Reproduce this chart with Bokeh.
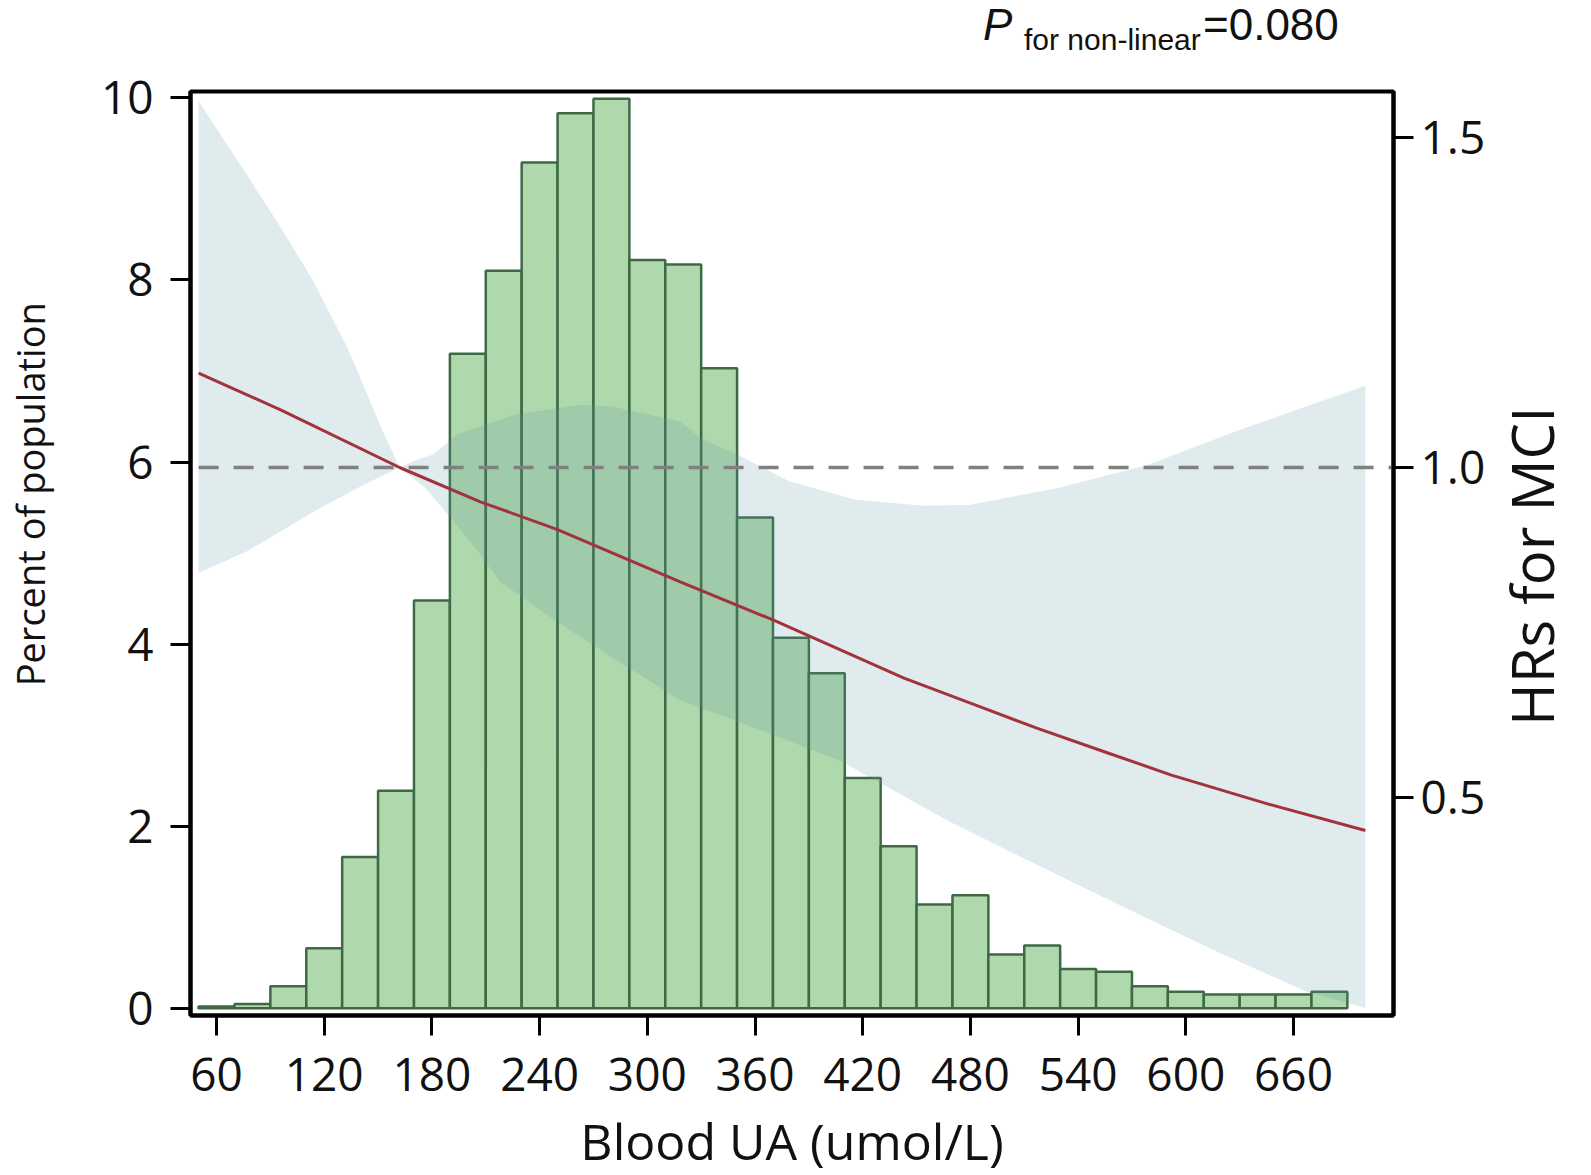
import math
from bokeh.plotting import figure
from bokeh.layouts import column, row
from bokeh.models import Range1d, LinearAxis, FixedTicker, PrintfTickFormatter, Div
from bokeh.embed import file_html
from bokeh.resources import INLINE

# ---------------- data ----------------
bin_centers = [60, 80, 100, 120, 140, 160, 180, 200, 220, 240, 260, 280, 300, 320, 340, 360,
               380, 400, 420, 440, 460, 480, 500, 520, 540, 560, 580, 600, 620, 640, 660, 680]
bin_width = 20
percent = [0.02, 0.045, 0.24, 0.66, 1.66, 2.39, 4.48, 7.19, 8.10, 9.29, 9.83, 9.99, 8.22, 8.17, 7.03, 5.39,
           4.07, 3.68, 2.53, 1.78, 1.14, 1.24, 0.59, 0.69, 0.43, 0.40, 0.24, 0.18, 0.15, 0.15, 0.15, 0.18]

ua_curve = [50, 96, 162, 207, 250, 318, 370, 443, 480, 517, 555, 592, 646, 700]
hr_curve = [1.143, 1.087, 1.0, 0.948, 0.906, 0.827, 0.769, 0.681, 0.643, 0.605, 0.569, 0.534, 0.490, 0.450]

ua_upper = [50, 77, 96, 114, 133, 151, 162, 170, 181, 194, 226, 263, 281, 318, 330, 350,
            379, 416, 454, 479, 529, 579, 628, 700]
hr_upper = [1.555, 1.443, 1.363, 1.282, 1.181, 1.065, 1.0, 1.01, 1.020, 1.050, 1.080, 1.095,
            1.092, 1.07, 1.044, 1.02, 0.979, 0.951, 0.942, 0.943, 0.969, 1.004, 1.055, 1.124]

ua_lower = [50, 77, 114, 142, 162, 176, 190, 205, 218, 244, 281, 318, 368, 408, 431, 468,
            517, 567, 617, 667, 700]
hr_lower = [0.840, 0.873, 0.933, 0.974, 1.0, 0.97, 0.925, 0.875, 0.827, 0.777, 0.711, 0.648,
            0.597, 0.555, 0.520, 0.464, 0.398, 0.332, 0.267, 0.206, 0.181]

ref_hr = 1.0
x_ticks = [60, 120, 180, 240, 300, 360, 420, 480, 540, 600, 660]
left_ticks = [0, 2, 4, 6, 8, 10]
right_ticks = [0.5, 1.0, 1.5]

# ---------------- layout ----------------
DIV_H = 60
FRAME_L, FRAME_T, FRAME_W, FRAME_H = 184, 91, 1203, 924
RIGHT_B = 100
TOTAL_W, TOTAL_H = 1591, 1167
FIG_W = FRAME_L + FRAME_W + RIGHT_B
X0, X1 = 45.5, 715.7
Y0, Y1 = -0.08, 10.07
HR0, HR1 = 0.1697, 1.5697
FONT = "Open Sans"
NB = "\u00a0"

p = figure(frame_width=FRAME_W, frame_height=FRAME_H,
           x_range=Range1d(X0, X1), y_range=Range1d(Y0, Y1),
           output_backend="svg", toolbar_location=None,
           min_border_left=FRAME_L, min_border_top=FRAME_T - DIV_H,
           min_border_right=RIGHT_B,
           min_border_bottom=TOTAL_H - FRAME_T - FRAME_H, margin=0)
p.extra_y_ranges = {"hr": Range1d(HR0, HR1)}
p.xgrid.visible = False
p.ygrid.visible = False
p.outline_line_color = "black"
p.outline_line_width = 4
p.background_fill_color = "white"
p.border_fill_color = "white"

raxis = LinearAxis(y_range_name="hr", ticker=FixedTicker(ticks=right_ticks),
                   formatter=PrintfTickFormatter(format="%.1f"))
p.add_layout(raxis, "right")

p.xaxis.ticker = FixedTicker(ticks=x_ticks)
p.yaxis[0].ticker = FixedTicker(ticks=left_ticks)

xaxis = p.xaxis[0]
yaxis = p.yaxis[0]
for ax in [xaxis, yaxis, raxis]:
    ax.axis_line_width = 4
    ax.axis_line_color = "black"
    ax.major_tick_out = 20
    ax.major_tick_in = 0
    ax.major_tick_line_width = 3
    ax.major_tick_line_color = "black"
    ax.minor_tick_out = 0
    ax.minor_tick_in = 0
    ax.major_label_text_font = FONT
    ax.major_label_text_font_size = "46px"
    ax.major_label_text_color = "#111111"
    ax.axis_label_text_font = FONT
    ax.axis_label_text_font_style = "normal"
    ax.axis_label_text_color = "#111111"
xaxis.major_label_standoff = 22
yaxis.major_label_standoff = 17
raxis.major_label_standoff = 7

xaxis.axis_label = "Blood UA (umol/L)"
xaxis.axis_label_text_font_size = "50px"
xaxis.axis_label_standoff = 13

yaxis.axis_label = NB * 12 + "Percent of population"
yaxis.axis_label_text_font_size = "38px"
yaxis.axis_label_standoff = 42

# bars
p.vbar(x=bin_centers, width=bin_width, bottom=0, top=percent,
       fill_color="#b0d8ad", line_color="#3d6a45", line_width=2.5)

# confidence band
band_x = ua_upper + ua_lower[::-1]
band_y = hr_upper + hr_lower[::-1]
p.patch(band_x, band_y, y_range_name="hr", fill_color="#5f9aa0", fill_alpha=0.2, line_alpha=0)

# reference line
p.line([ua_curve[0], X1], [ref_hr, ref_hr], y_range_name="hr",
       line_color="#808080", line_width=3.5, line_dash="20 15")

# HR curve
p.line(ua_curve, hr_curve, y_range_name="hr", line_color="#a2323b", line_width=3)

# P for non-linear annotation (above the plot)
top_html = (
    '<div style="position:relative;width:%dpx;height:%dpx;'
    'font-family:\'Liberation Sans\',Arial,sans-serif;color:#111111;">'
    '<span style="position:absolute;left:983px;top:3px;font-size:44px;line-height:44px;'
    'font-style:italic;">P</span>'
    '<span style="position:absolute;left:1024px;top:25px;font-size:30px;line-height:30px;'
    'white-space:nowrap;">for non-linear</span>'
    '<span style="position:absolute;left:1203px;top:3px;font-size:44px;line-height:44px;'
    'white-space:nowrap;">=0.080</span>'
    '</div>' % (FIG_W, DIV_H)
)
div_top = Div(text=top_html, width=FIG_W, height=DIV_H, margin=0)

# right-hand axis title (reads bottom to top)
RIGHT_W = TOTAL_W - FIG_W
right_html = (
    '<div style="position:relative;width:%dpx;height:%dpx;">'
    '<span style="position:absolute;left:10px;top:726px;transform:rotate(-90deg);'
    'transform-origin:0 0;font-family:\'Open Sans\';font-size:58px;line-height:58px;'
    'white-space:nowrap;color:#111111;">HRs for MCI</span>'
    '</div>' % (RIGHT_W, TOTAL_H)
)
div_right = Div(text=right_html, width=RIGHT_W, height=TOTAL_H, margin=0)

layout = row(column(div_top, p, spacing=0), div_right, spacing=0)
open("out.html", "w").write(file_html(layout, INLINE))
